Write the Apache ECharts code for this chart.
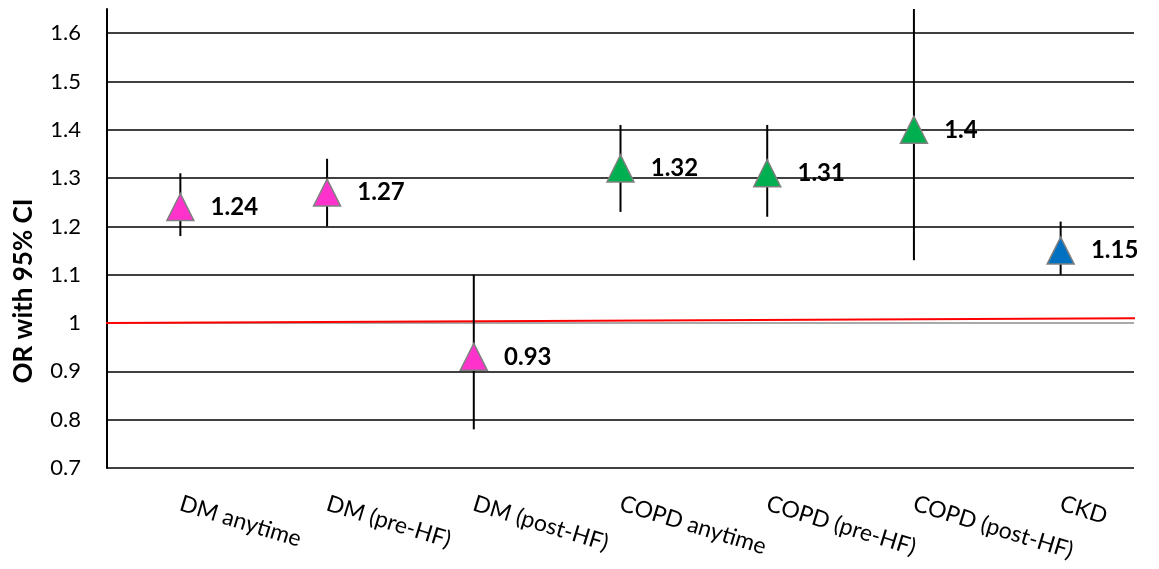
<!DOCTYPE html>
<html>
<head>
<meta charset="utf-8">
<script src="https://cdn.jsdelivr.net/npm/echarts@6/dist/echarts.min.js"></script>
<style>
  html, body { margin: 0; padding: 0; background: #fff; }
  #chart { width: 1159px; height: 569px; }
</style>
</head>
<body>
<div id="chart"></div>
<script>
// Odds ratios with 95% confidence intervals by comorbidity
const categories = ['DM anytime', 'DM (pre-HF)', 'DM (post-HF)', 'COPD anytime', 'COPD (pre-HF)', 'COPD (post-HF)', 'CKD'];
const groups = ['DM', 'DM', 'DM', 'COPD', 'COPD', 'COPD', 'CKD'];
const oddsRatio = [1.24, 1.27, 0.93, 1.32, 1.31, 1.4, 1.15];
const ciLower = [1.18, 1.20, 0.78, 1.23, 1.22, 1.13, 1.10];
const ciUpper = [1.31, 1.34, 1.10, 1.41, 1.41, 1.65, 1.21];
const yTicks = [0.7, 0.8, 0.9, 1, 1.1, 1.2, 1.3, 1.4, 1.5, 1.6];
// reference line (slightly rising) drawn across the plot, in category-index units
const refLineX = [-0.53, 6.56];
const refLineY = [1.0, 1.01];

const groupColor = { DM: '#FF33CC', COPD: '#00B050', CKD: '#0070C0' };
const FONT = 'Lato, "Open Sans", sans-serif';

const chart = echarts.init(document.getElementById('chart'), null, { renderer: 'canvas' });

const gridColors = yTicks.map(v => (v === 1 ? '#8c8c8c' : '#000000'));
gridColors.push('rgba(0,0,0,0)');

chart.setOption({
  animation: false,
  backgroundColor: '#ffffff',
  grid: { left: 107, right: 25, top: 9, bottom: 101, containLabel: false },
  xAxis: [
    {
      type: 'category',
      data: categories,
      boundaryGap: true,
      axisLine: { show: false },
      axisTick: { show: false },
      splitLine: { show: false },
      axisLabel: {
        rotate: -17,
        margin: 35,
        interval: 0,
        color: '#000',
        fontFamily: FONT,
        fontSize: 23
      }
    },
    {
      type: 'value',
      min: -0.5,
      max: 6.5,
      show: false
    }
  ],
  yAxis: {
    type: 'value',
    min: 0.7,
    max: 1.65,
    interval: 0.1,
    axisLine: { show: true, onZero: false, lineStyle: { color: '#000', width: 2 } },
    axisTick: { show: false },
    axisLabel: {
      margin: 26,
      color: '#000',
      fontFamily: FONT,
      fontSize: 22,
      showMaxLabel: false,
      formatter: v => (Math.abs(v - 1.65) < 1e-9 ? '' : String(+v.toFixed(2)))
    },
    splitLine: {
      show: true,
      showMaxLine: false,
      lineStyle: { color: gridColors, width: 1.5 }
    }
  },
  graphic: [
    {
      type: 'text',
      rotation: Math.PI / 2,
      x: 24,
      y: 291,
      style: {
        text: 'OR with 95% CI',
        font: 'bold 26px ' + FONT,
        fill: '#000',
        textAlign: 'center',
        textVerticalAlign: 'middle'
      }
    }
  ],
  series: [
    {
      type: 'line',
      xAxisIndex: 1,
      data: refLineX.map((x, i) => [x, refLineY[i]]),
      symbol: 'none',
      clip: false,
      lineStyle: { color: '#FF0000', width: 2 },
      z: 3
    },
    {
      type: 'custom',
      xAxisIndex: 0,
      yAxisIndex: 0,
      dimensions: ['category', 'low', 'high'],
      encode: { x: 0, y: [1, 2] },
      data: categories.map((c, i) => [c, ciLower[i], ciUpper[i]]),
      renderItem: function (params, api) {
        const idx = params.dataIndex;
        const lo = api.coord([idx, api.value(1)]);
        const hi = api.coord([idx, api.value(2)]);
        return {
          type: 'line',
          shape: { x1: lo[0], y1: lo[1], x2: hi[0], y2: hi[1] },
          style: { stroke: '#000', lineWidth: 2 }
        };
      },
      z: 4
    },
    {
      type: 'scatter',
      symbol: 'triangle',
      symbolSize: [27, 27],
      itemStyle: { opacity: 1 },
      data: oddsRatio.map((v, i) => ({
        value: [categories[i], v],
        itemStyle: { color: groupColor[groups[i]], borderColor: '#808080', borderWidth: 1.5, opacity: 1 }
      })),
      label: {
        show: true,
        position: 'right',
        distance: 16,
        formatter: p => String(p.value[1]),
        color: '#000',
        opacity: 1,
        fontFamily: FONT,
        fontWeight: 'bold',
        fontSize: 24
      },
      z: 5
    }
  ]
});
</script>
</body>
</html>
